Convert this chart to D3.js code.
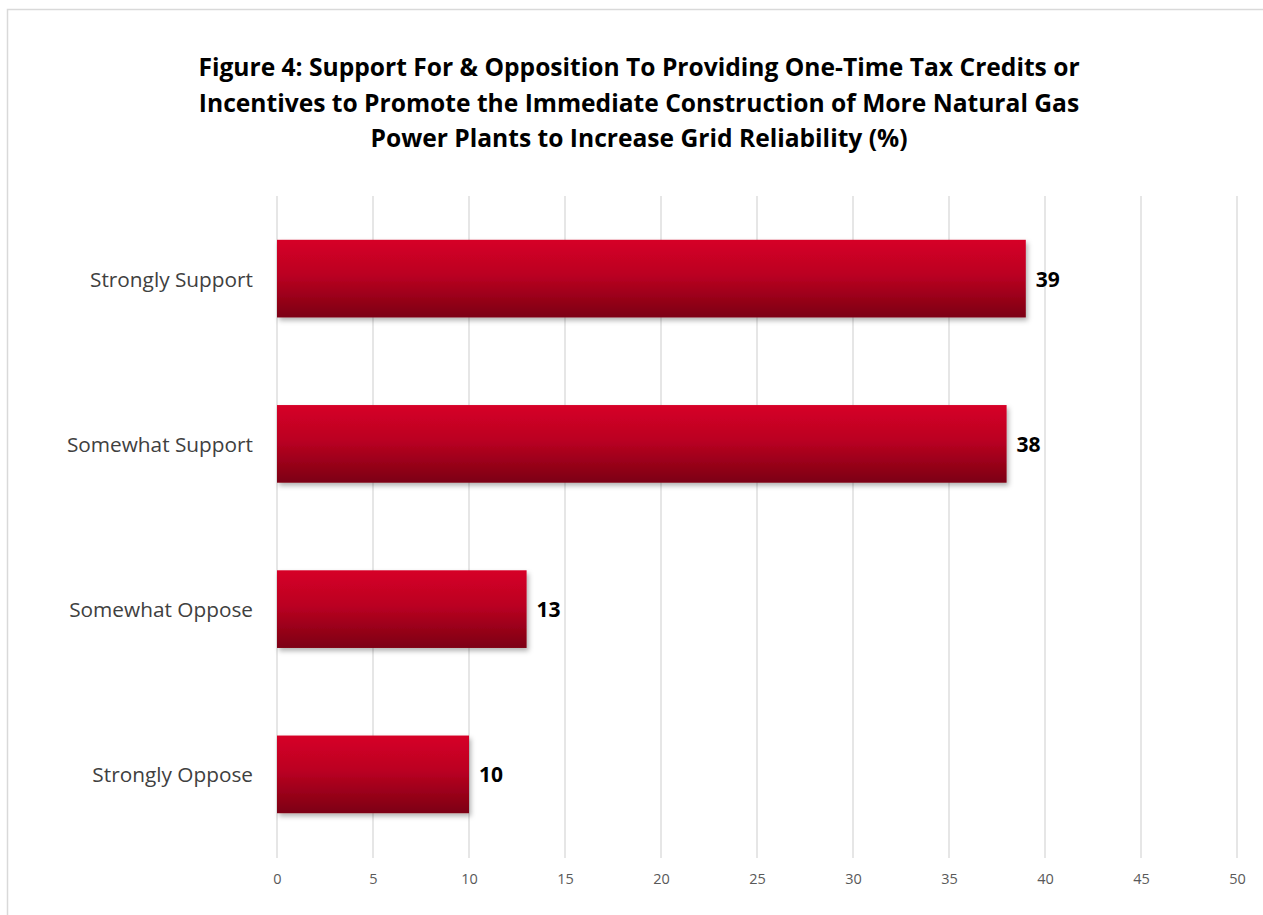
<!DOCTYPE html>
<html><head><meta charset="utf-8">
<script src="https://cdn.jsdelivr.net/npm/d3@7"></script>
<style>
html,body{margin:0;padding:0;background:#fff;}
svg{display:block;}
</style></head>
<body>
<svg id="chart" width="1263" height="915"></svg>
<script>
const categories = ["Strongly Support","Somewhat Support","Somewhat Oppose","Strongly Oppose"];
const values = [39,38,13,10];
const tickValues = [0,5,10,15,20,25,30,35,40,45,50];
const titleLines = [
 "Figure 4: Support For & Opposition To Providing One-Time Tax Credits or",
 "Incentives to Promote the Immediate Construction of More Natural Gas",
 "Power Plants to Increase Grid Reliability (%)"
];

(function(){
const svg = d3.select("#chart");
const font = "'Open Sans', 'Noto Sans', sans-serif";

// outer border
svg.append("rect").attr("x",7.5).attr("y",9.5).attr("width",1300).attr("height",1000)
  .attr("fill","#fff").attr("stroke","#d9d9d9").attr("stroke-width",1.5);

const defs = svg.append("defs");
const grad = defs.append("linearGradient").attr("id","barGrad").attr("x1",0).attr("y1",0).attr("x2",0).attr("y2",1);
grad.append("stop").attr("offset","0%").attr("stop-color","#d60027");
grad.append("stop").attr("offset","45%").attr("stop-color","#bb0022");
grad.append("stop").attr("offset","100%").attr("stop-color","#7c0012");
const f = defs.append("filter").attr("id","shadow").attr("x","-5%").attr("y","-10%").attr("width","115%").attr("height","140%");
f.append("feDropShadow").attr("dx",2).attr("dy",3).attr("stdDeviation",2.5).attr("flood-color","#000").attr("flood-opacity",0.3);

// title
svg.append("g").selectAll("text").data(titleLines).join("text")
  .attr("x",639).attr("y",(d,i)=>76+i*35.5)
  .attr("text-anchor","middle").attr("font-family",font).attr("font-weight","bold")
  .attr("font-size",24.6).attr("fill","#000").text(d=>d);

const pLeft=277, pRight=1237, pTop=196, pBottom=857;
const x = d3.scaleLinear().domain([0,50]).range([pLeft,pRight]);
const y = d3.scaleBand().domain(categories).range([pTop,pBottom]).paddingInner(0.53).paddingOuter(0.265);

// gridlines
svg.append("g").selectAll("line").data(tickValues).join("line")
  .attr("x1",d=>x(d)).attr("x2",d=>x(d)).attr("y1",pTop).attr("y2",pBottom+1)
  .attr("stroke","#d9d9d9").attr("stroke-width",1.3);

// x axis labels
const xa = svg.append("g").attr("transform",`translate(0,${pBottom})`)
  .call(d3.axisBottom(x).tickValues(tickValues).tickSize(0).tickPadding(17));
xa.select(".domain").remove();
xa.selectAll("text").attr("font-family",font).attr("font-size",14.5).attr("fill","#595959");

// y axis labels
const ya = svg.append("g").attr("transform",`translate(${pLeft},0)`)
  .call(d3.axisLeft(y).tickSize(0).tickPadding(24));
ya.select(".domain").remove();
ya.selectAll("text").attr("font-family",font).attr("font-size",20.8).attr("fill","#404040").attr("dy","0.38em");

// bars
const data = categories.map((c,i)=>({c,v:values[i]}));
svg.append("g").selectAll("rect").data(data).join("rect")
  .attr("x",x(0)).attr("y",d=>y(d.c)).attr("width",d=>x(d.v)-x(0)).attr("height",y.bandwidth())
  .attr("fill","url(#barGrad)").attr("filter","url(#shadow)");

// value labels
svg.append("g").selectAll("text").data(data).join("text")
  .attr("x",d=>x(d.v)+10).attr("y",d=>y(d.c)+y.bandwidth()/2).attr("dy","0.38em")
  .attr("font-family",font).attr("font-weight","bold").attr("font-size",21).attr("fill","#000")
  .text(d=>d.v);
})();
</script>
</body></html>
